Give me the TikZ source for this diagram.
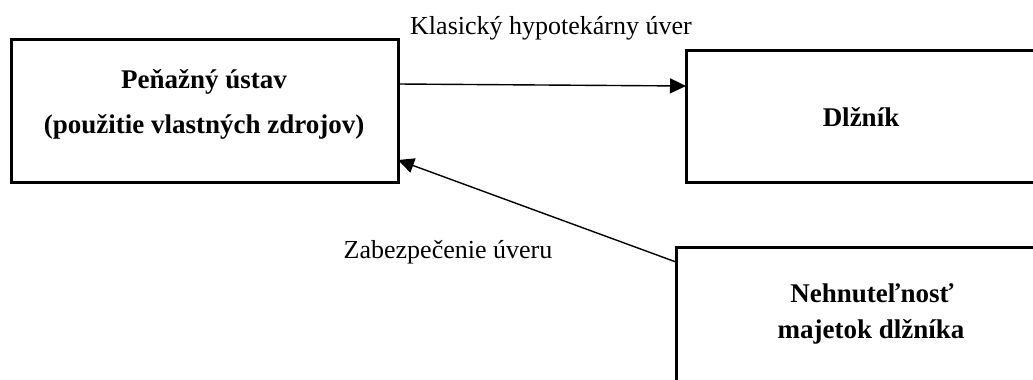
\documentclass[tikz,border=0pt]{standalone}
\usepackage{fontspec}
\setmainfont{Liberation Serif}
\usetikzlibrary{arrows.meta}
\begin{document}
\begin{tikzpicture}[x=0.5pt,y=-0.5pt,
  boxshape/.style={draw=black,line width=1.5pt,fill=none,inner sep=0pt},
  boldtext/.style={font=\fontsize{13.5}{16}\selectfont\bfseries,inner sep=0pt,anchor=center},
  plaintext/.style={font=\fontsize{13}{15.6}\selectfont,inner sep=0pt,anchor=center},
  conn/.style={line width=0.7pt,-{Triangle[length=8pt,width=7.5pt]}}]
\useasboundingbox (0,0) rectangle (1033,380);
\clip (0,0) rectangle (1033,380);
% boxes
\node[boxshape,minimum width=193.5pt,minimum height=71.5pt] (bank) at (204.5,110.5) {};
\node[boxshape,minimum width=175pt,minimum height=66pt] (debtor) at (861,116) {};
\node[boxshape,minimum width=195pt,minimum height=80pt] (estate) at (871,327) {};
% box texts
\node[boldtext] (bankA) at (204,82) {Peňažný ústav};
\node[boldtext] (bankB) at (204,127) {(použitie vlastných zdrojov)};
\node[boldtext] (debtorT) at (861,117) {Dlžník};
\node[boldtext] (estateA) at (872,293) {Nehnuteľnosť};
\node[boldtext] (estateB) at (871,332) {majetok dlžníka};
% connector labels
\node[plaintext] (lblTop) at (551,28) {Klasický hypotekárny úver};
\node[plaintext] (lblBot) at (448,252) {Zabezpečenie úveru};
% connectors
\coordinate (c1) at (398,84);
\coordinate (c2) at (686,86);
\coordinate (c3) at (676,262);
\coordinate (c4) at (398,160);
\draw[conn] (c1) -- (c2);
\draw[conn] (c3) -- (c4);
\end{tikzpicture}
\end{document}
